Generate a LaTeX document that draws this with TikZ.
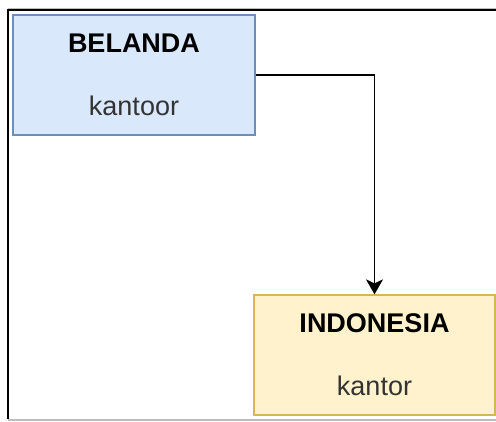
\documentclass[tikz,border=0pt]{standalone}
\usepackage{fontspec}
\setmainfont{Liberation Sans}
\usetikzlibrary{arrows.meta}
\definecolor{blueFill}{HTML}{DAE8FC}
\definecolor{blueLine}{HTML}{6C8EBF}
\definecolor{yellowFill}{HTML}{FFF2CC}
\definecolor{yellowLine}{HTML}{D6B656}
\definecolor{subText}{HTML}{333333}
\definecolor{frameGray}{HTML}{BDBDBD}
\tikzset{
  officebox/.style={rectangle, draw, line width=1.3pt, minimum width=242pt,
    minimum height=120pt, inner sep=0pt, align=center,
    font=\fontsize{27}{63}\selectfont},
  flow/.style={draw=black, line width=1.5pt,
    -{Stealth[length=15pt,width=17pt,inset=4pt]}}
}
\begin{document}
\begin{tikzpicture}[x=1pt,y=-1pt]
  \useasboundingbox (0,0) rectangle (496,421);
  \fill[white] (0,0) rectangle (496,421);
  % window frame
  \draw[frameGray, line width=1pt] (8,8.3) -- (496,8.3);
  \draw[black, line width=2pt] (8.3,10) -- (496,10);
  \draw[black, line width=2pt] (8.3,9) -- (8.3,419);
  \draw[frameGray, line width=1.5pt] (8,419.8) -- (496,419.8);
  % offices
  \node[officebox, fill=blueFill, draw=blueLine] (belanda) at (134,75)
    {\textbf{BELANDA}\\\textcolor{subText}{kantoor}};
  \node[officebox, fill=yellowFill, draw=yellowLine, minimum width=241pt] (indonesia) at (374.5,355)
    {\textbf{INDONESIA}\\\textcolor{subText}{kantor}};
  % connector
  \draw[flow] (belanda.east) -| (indonesia.north);
\end{tikzpicture}
\end{document}
